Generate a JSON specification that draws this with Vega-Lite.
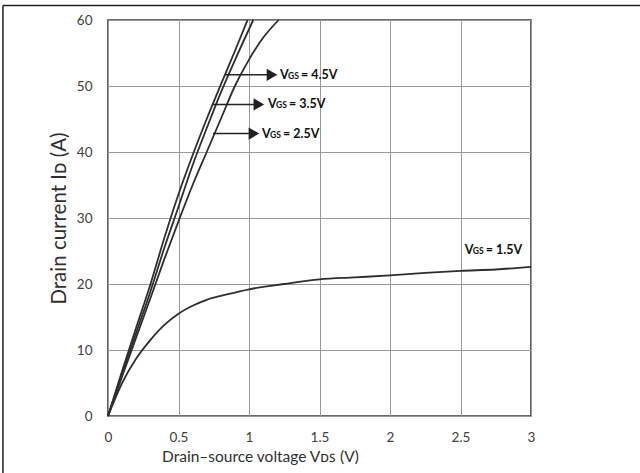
{
  "$schema": "https://vega.github.io/schema/vega-lite/v6.json",
  "width": 423,
  "height": 396,
  "autosize": {"type": "none"},
  "padding": {"left": 108, "top": 20, "right": 109, "bottom": 57},
  "background": "white",
  "config": {
    "view": {"stroke": "#3a3a3a", "strokeWidth": 1.6},
    "font": "Lato",
    "axis": {
      "grid": true,
      "gridColor": "#9a9a9a",
      "gridWidth": 1,
      "domain": false,
      "ticks": false,
      "labelFlush": false,
      "labelFont": "Lato",
      "labelFontSize": 13.5,
      "labelColor": "#404040",
      "titleFont": "Lato",
      "titleFontWeight": "normal",
      "titleColor": "#303030"
    }
  },
  "datasets": {
    "curves": [
      {"vgs": "4.5V", "vds": 0, "id": 0},
      {"vgs": "4.5V", "vds": 0.1, "id": 6.8},
      {"vgs": "4.5V", "vds": 0.2, "id": 13.4},
      {"vgs": "4.5V", "vds": 0.3, "id": 19.9},
      {"vgs": "4.5V", "vds": 0.4, "id": 27},
      {"vgs": "4.5V", "vds": 0.5, "id": 33.6},
      {"vgs": "4.5V", "vds": 0.6, "id": 39.5},
      {"vgs": "4.5V", "vds": 0.7, "id": 45},
      {"vgs": "4.5V", "vds": 0.8, "id": 50.2},
      {"vgs": "4.5V", "vds": 0.9, "id": 55.3},
      {"vgs": "4.5V", "vds": 0.99, "id": 60},
      {"vgs": "3.5V", "vds": 0, "id": 0},
      {"vgs": "3.5V", "vds": 0.1, "id": 6.4},
      {"vgs": "3.5V", "vds": 0.2, "id": 12.6},
      {"vgs": "3.5V", "vds": 0.3, "id": 18.8},
      {"vgs": "3.5V", "vds": 0.4, "id": 25.5},
      {"vgs": "3.5V", "vds": 0.5, "id": 31.7},
      {"vgs": "3.5V", "vds": 0.6, "id": 38},
      {"vgs": "3.5V", "vds": 0.7, "id": 43.6},
      {"vgs": "3.5V", "vds": 0.8, "id": 49},
      {"vgs": "3.5V", "vds": 0.9, "id": 53.9},
      {"vgs": "3.5V", "vds": 1.03, "id": 60},
      {"vgs": "2.5V", "vds": 0, "id": 0},
      {"vgs": "2.5V", "vds": 0.1, "id": 6},
      {"vgs": "2.5V", "vds": 0.2, "id": 11.9},
      {"vgs": "2.5V", "vds": 0.3, "id": 17.8},
      {"vgs": "2.5V", "vds": 0.4, "id": 23.8},
      {"vgs": "2.5V", "vds": 0.5, "id": 29.5},
      {"vgs": "2.5V", "vds": 0.6, "id": 35},
      {"vgs": "2.5V", "vds": 0.7, "id": 40},
      {"vgs": "2.5V", "vds": 0.8, "id": 45},
      {"vgs": "2.5V", "vds": 0.9, "id": 50},
      {"vgs": "2.5V", "vds": 1.0, "id": 54},
      {"vgs": "2.5V", "vds": 1.1, "id": 57.3},
      {"vgs": "2.5V", "vds": 1.21, "id": 60},
      {"vgs": "1.5V", "vds": 0, "id": 0},
      {"vgs": "1.5V", "vds": 0.1, "id": 5},
      {"vgs": "1.5V", "vds": 0.2, "id": 8.7},
      {"vgs": "1.5V", "vds": 0.3, "id": 11.5},
      {"vgs": "1.5V", "vds": 0.4, "id": 13.8},
      {"vgs": "1.5V", "vds": 0.5, "id": 15.5},
      {"vgs": "1.5V", "vds": 0.6, "id": 16.7},
      {"vgs": "1.5V", "vds": 0.7, "id": 17.6},
      {"vgs": "1.5V", "vds": 0.8, "id": 18.2},
      {"vgs": "1.5V", "vds": 0.9, "id": 18.7},
      {"vgs": "1.5V", "vds": 1.0, "id": 19.2},
      {"vgs": "1.5V", "vds": 1.25, "id": 20},
      {"vgs": "1.5V", "vds": 1.5, "id": 20.7},
      {"vgs": "1.5V", "vds": 1.75, "id": 21},
      {"vgs": "1.5V", "vds": 2.0, "id": 21.3},
      {"vgs": "1.5V", "vds": 2.25, "id": 21.7},
      {"vgs": "1.5V", "vds": 2.5, "id": 22},
      {"vgs": "1.5V", "vds": 2.75, "id": 22.2},
      {"vgs": "1.5V", "vds": 3.0, "id": 22.6}
    ],
    "arrows": [
      {"vgs": "4.5V", "start": 0.83, "head": 1.163, "level": 51.7},
      {"vgs": "3.5V", "start": 0.745, "head": 1.07, "level": 47.2},
      {"vgs": "2.5V", "start": 0.745, "head": 1.035, "level": 42.8}
    ],
    "labels": [
      {"vgs": "4.5V", "lx": 1.22, "ly": 51.7, "rest": "= 4.5V"},
      {"vgs": "3.5V", "lx": 1.135, "ly": 47.2, "rest": "= 3.5V"},
      {"vgs": "2.5V", "lx": 1.092, "ly": 42.8, "rest": "= 2.5V"},
      {"vgs": "1.5V", "lx": 2.53, "ly": 25.1, "rest": "= 1.5V"}
    ],
    "frame": [{}]
  },
  "layer": [
    {
      "data": {"name": "curves"},
      "mark": {"type": "line", "color": "#2e2e2e", "strokeWidth": 1.8, "interpolate": "monotone"},
      "encoding": {
        "x": {
          "field": "vds", "type": "quantitative",
          "scale": {"domain": [0, 3], "nice": false, "zero": false},
          "axis": {"values": [0, 0.5, 1, 1.5, 2, 2.5, 3], "format": "~g", "labelPadding": 14, "titlePadding": 6,
                   "titleFontSize": 15.5, "titleX": 152, "titleAlign": "center",
                   "title": "Drain–source voltage Vᴅꜱ (V)"}
        },
        "y": {
          "field": "id", "type": "quantitative",
          "scale": {"domain": [0, 60], "nice": false, "zero": false},
          "axis": {"values": [0, 10, 20, 30, 40, 50, 60], "labelPadding": 16, "titlePadding": 7,
                   "titleFontSize": 20.5, "title": "Drain current Iᴅ (A)"}
        },
        "detail": {"field": "vgs"}
      }
    },
    {
      "data": {"name": "arrows"},
      "mark": {"type": "rule", "color": "#222222", "strokeWidth": 1.5},
      "encoding": {
        "x": {"field": "start", "type": "quantitative"},
        "x2": {"field": "head"},
        "y": {"field": "level", "type": "quantitative"}
      }
    },
    {
      "data": {"name": "arrows"},
      "mark": {"type": "point", "shape": "triangle-right", "filled": true, "color": "#222222", "size": 150, "opacity": 1},
      "encoding": {
        "x": {"field": "head", "type": "quantitative"},
        "y": {"field": "level", "type": "quantitative"}
      }
    },
    {
      "data": {"name": "labels"},
      "mark": {"type": "text", "text": "V", "align": "left", "baseline": "middle", "fontWeight": "bold", "fontSize": 12.5, "color": "#111111"},
      "encoding": {
        "x": {"field": "lx", "type": "quantitative"},
        "y": {"field": "ly", "type": "quantitative"}
      }
    },
    {
      "data": {"name": "labels"},
      "mark": {"type": "text", "text": "GS", "align": "left", "baseline": "middle", "fontWeight": "bold", "fontSize": 8.5, "dx": 8, "dy": 1, "color": "#111111"},
      "encoding": {
        "x": {"field": "lx", "type": "quantitative"},
        "y": {"field": "ly", "type": "quantitative"}
      }
    },
    {
      "data": {"name": "labels"},
      "mark": {"type": "text", "align": "left", "baseline": "middle", "fontWeight": "bold", "fontSize": 12.5, "dx": 21, "color": "#111111"},
      "encoding": {
        "x": {"field": "lx", "type": "quantitative"},
        "y": {"field": "ly", "type": "quantitative"},
        "text": {"field": "rest"}
      }
    },
    {
      "data": {"name": "frame"},
      "mark": {"type": "rule", "color": "#222222", "strokeWidth": 1.5},
      "encoding": {
        "x": {"datum": -0.745, "type": "quantitative"},
        "x2": {"datum": 3.8},
        "y": {"datum": 62.2, "type": "quantitative"}
      }
    },
    {
      "data": {"name": "frame"},
      "mark": {"type": "rule", "color": "#222222", "strokeWidth": 1.5},
      "encoding": {
        "x": {"datum": -0.745, "type": "quantitative"},
        "y": {"datum": -8.8, "type": "quantitative"},
        "y2": {"datum": 62.2}
      }
    }
  ]
}
